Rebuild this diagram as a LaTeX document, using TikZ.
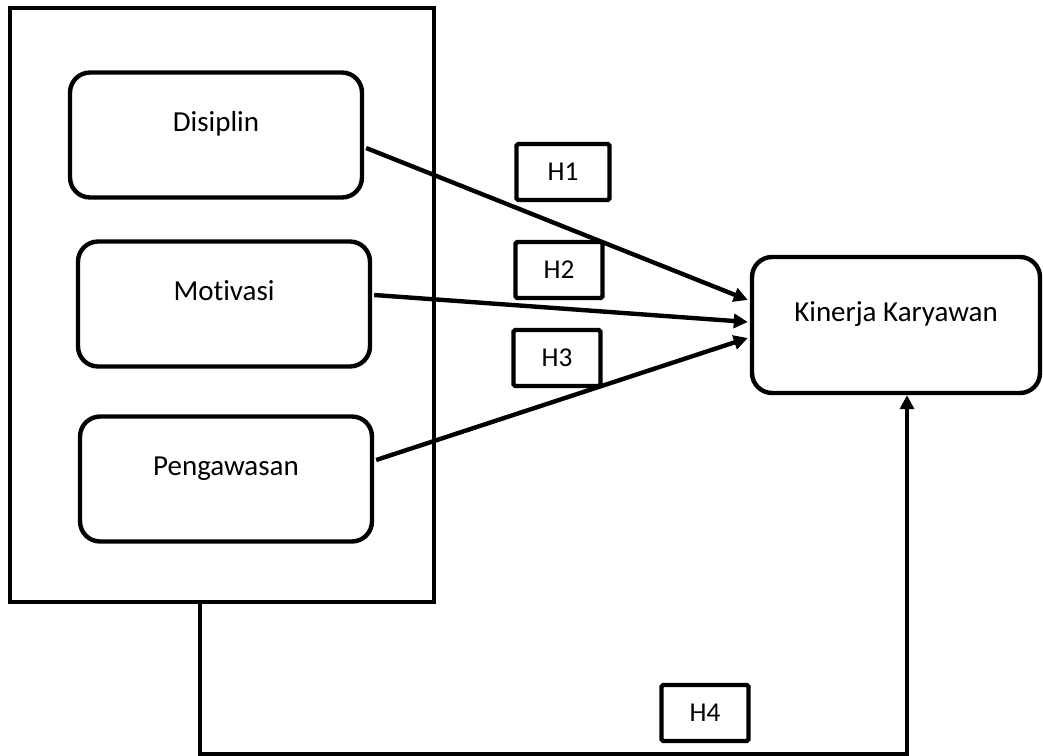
\documentclass[tikz,border=0pt]{standalone}
\usepackage{fontspec}
\setmainfont{Carlito}[Ligatures={NoCommon}]
\usetikzlibrary{arrows.meta,calc}

\tikzset{
  varbox/.style={draw, line width=2.5pt, rounded corners=0.4cm, minimum width=5.84cm, minimum height=2.5cm,
    text height=8pt, text depth=12.5pt, font=\fontsize{16.5}{19}\selectfont},
  hbox/.style={draw, line width=2.5pt, rounded corners=1pt, minimum width=1.74cm, minimum height=1.12cm,
    font=\fontsize{15.5}{18}\selectfont},
  link/.style={line width=2.5pt, -{Triangle[length=8pt,width=8pt]}},
}

\begin{document}
\begin{tikzpicture}[x=0.02cm,y=-0.02cm]
\useasboundingbox (0,0) rectangle (1043,756);
\node[draw, line width=2.5pt, minimum width=8.48cm, minimum height=11.88cm] (grp) at (222,305) {};
\node[varbox] (dis) at (216,135) {Disiplin};
\node[varbox] (mot) at (224,304) {Motivasi};
\node[varbox] (pen) at (226,479) {Pengawasan};
\node[varbox, minimum width=5.76cm, minimum height=2.72cm] (kin) at (896,325) {Kinerja Karyawan};
\node[hbox, minimum width=1.86cm] (h1) at (563,172) {H1};
\node[hbox] (h2) at (559,270) {H2};
\node[hbox] (h3) at (557,358) {H3};
\node[hbox] (h4) at (705,713) {H4};
\draw[link] ($(dis.east)+(2,13)$) -- ($(kin.west)+(-2,-25)$);
\draw[link] ($(mot.east)+(2,-9)$) -- ($(kin.west)+(-2,-3)$);
\draw[link] ($(pen.east)+(2,-19)$) -- ($(kin.west)+(-2,13)$);
\draw[link] ($(grp.south)+(-22,0)$) -- ++(0,150) -| ($(kin.south)+(11,0)$);
\end{tikzpicture}
\end{document}
